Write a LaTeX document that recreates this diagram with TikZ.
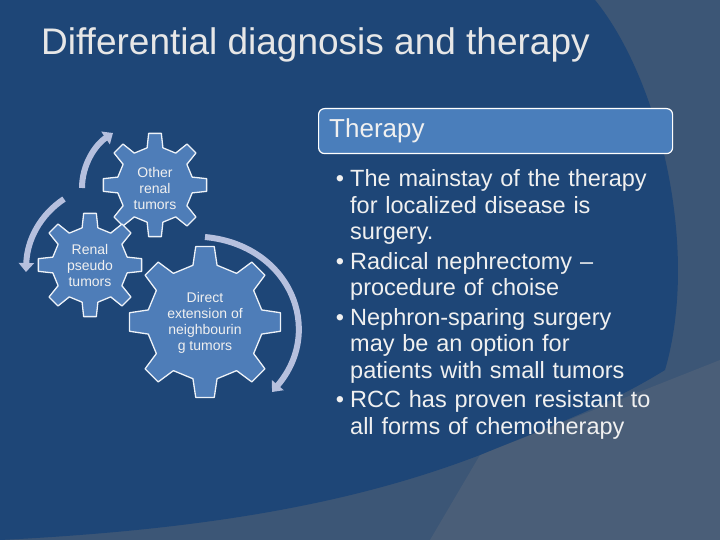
\documentclass[tikz,border=0pt]{standalone}
\usepackage{fontspec}
\setmainfont{Liberation Sans}
\usetikzlibrary{arrows.meta}
\definecolor{bgdark}{HTML}{1E4677}
\definecolor{bggrey}{HTML}{3C5676}
\definecolor{bggrey2}{HTML}{4A5E78}
\definecolor{gearc}{HTML}{4E7DB8}
\definecolor{arrc}{HTML}{B6C0DE}
\definecolor{txt}{HTML}{F0F0F0}
\definecolor{hdr}{HTML}{4A7EBB}
\tikzset{
 gear/.style={fill=gearc,draw=white!90!gearc,line width=1.3pt,line join=round},
 geartxt/.style={text=txt,font=\fontsize{14}{16}\selectfont,align=center},
 cyc/.style={draw=arrc,line width=6pt,-{Triangle[length=9pt,width=15pt]}},
 bul/.style={text=txt,font=\fontsize{23.5}{26.5}\selectfont,anchor=north west,align=left,text width=370pt,inner sep=0pt}
}
\newcommand\mygear[4]{%
 \draw[gear,shift={(#1,#2)}] (-12:#3) \foreach \i in {0,...,7}{ -- ({\i*45-12}:#3) -- ({\i*45-7}:#4) -- ({\i*45+7}:#4) -- ({\i*45+12}:#3)} -- cycle;}
\begin{document}
\begin{tikzpicture}[x=1pt,y=-1pt]
\useasboundingbox (0,0) rectangle (720,540);
\fill[bggrey] (0,0) rectangle (720,540);
\fill[bggrey2] (720,360) -- (720,540) -- (430,540) -- (480,455) -- cycle;
\fill[bgdark] (0,0) -- (595,0) .. controls (660,80) and (700,250) .. (665,370)
 .. controls (600,410) and (540,430) .. (480,455) .. controls (350,505) and (200,530) .. (0,540) -- cycle;
\node[anchor=west,text=txt!92!gray,font=\fontsize{37}{40}\selectfont,inner sep=0pt] (title) at (41,45) {Differential diagnosis and therapy};
% arrows
\coordinate (a1s) at (82,188); \coordinate (a1e) at (113,133);
\draw[cyc] (a1s) .. controls (82,165) and (95,145) .. (a1e);
\coordinate (a2s) at (64,199); \coordinate (a2e) at (26,272);
\draw[cyc] (a2s) .. controls (40,215) and (27,240) .. (a2e);
\coordinate (a3s) at (205,237); \coordinate (a3e) at (272,392);
\draw[cyc] (a3s) .. controls (290,245) and (325,330) .. (a3e);
% gears
\mygear{155}{185}{38}{52}
\mygear{90}{265}{38}{52}
\mygear{205}{322}{58}{76}
\node[geartxt] (g1) at (155,188) {Other\\renal\\tumors};
\node[geartxt] (g2) at (90,265) {Renal\\pseudo\\tumors};
\node[geartxt] (g3) at (205,323) {Direct\\extension of\\neighbourin\\g tumors};
% header
\node[draw=white,line width=1.2pt,fill=hdr,rounded corners=6pt,minimum width=354pt,minimum height=45pt,anchor=north west] (hd) at (318,108) {};
\node[anchor=west,text=txt,font=\fontsize{26}{28}\selectfont,inner sep=0pt] (ht) at (329,131) {Therapy};
\node[bul] (b) at (325,152) {%
\begin{itemize}\setlength\itemsep{3pt}\setlength\leftmargin{15pt}\setlength\labelsep{6pt}\setlength{\parskip}{0pt}\setlength\topsep{0pt}
\item The mainstay of the therapy\\for localized disease is\\surgery.
\item Radical nephrectomy –\\procedure of choise
\item Nephron-sparing surgery\\may be an option for\\patients with small tumors
\item RCC has proven resistant to\\all forms of chemotherapy
\end{itemize}};
\end{tikzpicture}
\end{document}
